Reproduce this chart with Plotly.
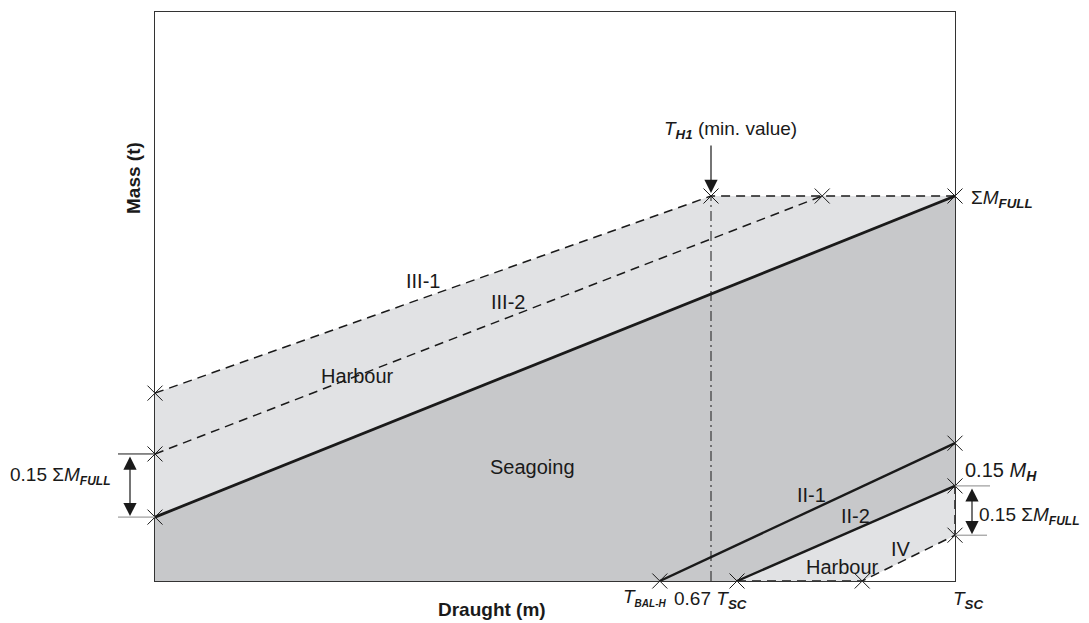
import plotly.graph_objects as go

# draught as a fraction of T_SC, mass as a fraction of sum M_FULL
seagoing_draught = [0.0, 1.0]
seagoing_mass = [0.166, 1.0]

t_h1 = 0.695
iii1_draught = [0.0, 0.695, 1.0]
iii1_mass = [0.488, 1.0, 1.0]
iii2_draught = [0.0, 0.834]
iii2_mass = [0.330, 1.0]

ii1_draught = [0.631, 1.0]
ii1_mass = [0.0, 0.358]
ii2_draught = [0.7275, 1.0]
ii2_mass = [0.0, 0.247]
iv_draught = [0.7275, 0.884, 1.0, 1.0]
iv_mass = [0.0, 0.0, 0.119, 0.247]

cross_draught = [0.0, 0.0, 0.0, 0.695, 0.834, 1.0, 1.0, 1.0, 1.0, 0.631, 0.7275, 0.884]
cross_mass = [0.488, 0.330, 0.166, 1.0, 1.0, 1.0, 0.358, 0.247, 0.119, 0.0, 0.0, 0.0]

mass_top = 1.478

W, H = 1089, 623
L, R, T, B = 155, 955, 12, 581
FONT = "Liberation Sans"
DARK = "#c7c8ca"
LIGHT = "#e1e2e4"
INK = "#1a1a1a"


def px(x):
    return (x - L) / (R - L)


def py(y):
    return (B - y) / (B - T)


def sub(s, size=None):
    if size:
        s = '<span style="font-size:%dpx">%s</span>' % (size, s)
    return "<sub><b><i>" + s + "</i></b></sub>"


fig = go.Figure()


def area(xs, ys, color):
    fig.add_trace(go.Scatter(x=xs, y=ys, fill="toself", fillcolor=color, mode="lines",
                             line=dict(width=0), hoverinfo="skip", showlegend=False))


def line(xs, ys, width, dash="solid"):
    fig.add_trace(go.Scatter(x=xs, y=ys, mode="lines", line=dict(color=INK, width=width, dash=dash),
                             hoverinfo="skip", showlegend=False))


# regions
area([seagoing_draught[0], seagoing_draught[1], 1.0, 0.0],
     [seagoing_mass[0], seagoing_mass[1], 0.0, 0.0], DARK)
area(iii1_draught + seagoing_draught[::-1], iii1_mass + seagoing_mass[::-1], LIGHT)
area(ii2_draught + iv_draught[::-1][1:], ii2_mass + iv_mass[::-1][1:], LIGHT)
area(iv_draught[1:3] + [1.0], iv_mass[1:3] + [0.0], "white")

# lines
line([t_h1, t_h1], [0.0, 1.0], 1, "10px,4px,2px,4px")
line(iii1_draught, iii1_mass, 1.5, "9px,6px")
line(iii2_draught, iii2_mass, 1.5, "9px,6px")
line(iv_draught, iv_mass, 1.5, "9px,6px")
line(seagoing_draught, seagoing_mass, 2.8)
line(ii1_draught, ii1_mass, 2.4)
line(ii2_draught, ii2_mass, 2.4)

fig.add_trace(go.Scatter(x=cross_draught, y=cross_mass, mode="markers", cliponaxis=False,
                         marker=dict(symbol="x-thin-open", size=15, color=INK, line=dict(color=INK, width=1)),
                         hoverinfo="skip", showlegend=False))

# dimension extension lines
fig.add_shape(type="line", xref="paper", yref="y", x0=px(118), x1=0, y0=iii2_mass[0], y1=iii2_mass[0],
              line=dict(color=INK, width=1))
fig.add_shape(type="line", xref="paper", yref="y", x0=px(118), x1=0, y0=seagoing_mass[0], y1=seagoing_mass[0],
              line=dict(color="#888", width=1))
fig.add_shape(type="line", xref="paper", yref="y", x0=1, x1=px(990), y0=ii2_mass[1], y1=ii2_mass[1],
              line=dict(color="#888", width=1))
fig.add_shape(type="line", xref="paper", yref="y", x0=1, x1=px(987), y0=iv_mass[2], y1=iv_mass[2],
              line=dict(color="#888", width=1))

arrow = dict(text="", showarrow=True, arrowhead=2, arrowsize=2.2, arrowwidth=1.2, arrowcolor=INK)
fig.add_annotation(xref="paper", yref="y", x=px(130), y=seagoing_mass[0], ax=0, ay=iii2_mass[0],
                   axref="pixel", ayref="y", arrowside="end+start", standoff=1, startstandoff=1, **arrow)
fig.add_annotation(xref="paper", yref="y", x=px(972), y=iv_mass[2], ax=0, ay=ii2_mass[1],
                   axref="pixel", ayref="y", arrowside="end+start", standoff=1, startstandoff=1, **arrow)
fig.add_annotation(xref="x", yref="y", x=t_h1, y=1.0, ax=0, ay=-52, standoff=3, **arrow)

labels = [
    ("III-1", 423, 281, 20, "center"),
    ("III-2", 508, 302, 20, "center"),
    ("Harbour", 357, 376, 20, "center"),
    ("Seagoing", 532, 467, 20, "center"),
    ("II-1", 811, 495, 20, "center"),
    ("II-2", 855, 516, 20, "center"),
    ("IV", 901, 549, 20, "center"),
    ("Harbour", 842, 567, 20, "center"),
    ("<i>T</i>" + sub("H1") + " (min. value)", 662, 130, 19, "left"),
    ("Σ<i>M</i>" + sub("FULL"), 969, 199, 19, "left"),
    ("0.15 <i>M</i>" + sub("H"), 963, 472, 20, "left"),
    ("0.15 Σ<i>M</i>" + sub("FULL", 12), 977, 516, 19, "left"),
    ("0.15 Σ<i>M</i>" + sub("FULL", 12), 8, 476, 19, "left"),
    ("<i>T</i>" + sub("BAL-H", 10), 668, 597, 19, "right"),
    ("0.67 <i>T</i>" + sub("SC"), 672, 600, 19, "left"),
    ("<i>T</i>" + sub("SC"), 951, 600, 19, "left"),
    ("<b>Draught (m)</b>", 492, 609, 19, "center"),
]
for text, x, y, size, anchor in labels:
    fig.add_annotation(xref="paper", yref="paper", x=px(x), y=py(y), text=text, showarrow=False,
                       xanchor=anchor, yanchor="middle", font=dict(family=FONT, size=size, color=INK))

fig.add_annotation(xref="paper", yref="paper", x=px(133), y=py(178), text="<b>Mass (t)</b>", textangle=-90,
                   showarrow=False, xanchor="center", yanchor="middle",
                   font=dict(family=FONT, size=19, color=INK))

axis = dict(showgrid=False, zeroline=False, showticklabels=False, ticks="", showline=True, mirror=True,
            linecolor="#333", linewidth=1, fixedrange=True)
fig.update_xaxes(range=[0, 1], **axis)
fig.update_yaxes(range=[0, mass_top], **axis)
fig.update_layout(width=W, height=H, margin=dict(l=L, r=W - R, t=T, b=H - B),
                  plot_bgcolor="white", paper_bgcolor="white", showlegend=False)

fig.write_html("out.html", config={"displayModeBar": False},
               post_script="document.body.style.margin='0px';")
